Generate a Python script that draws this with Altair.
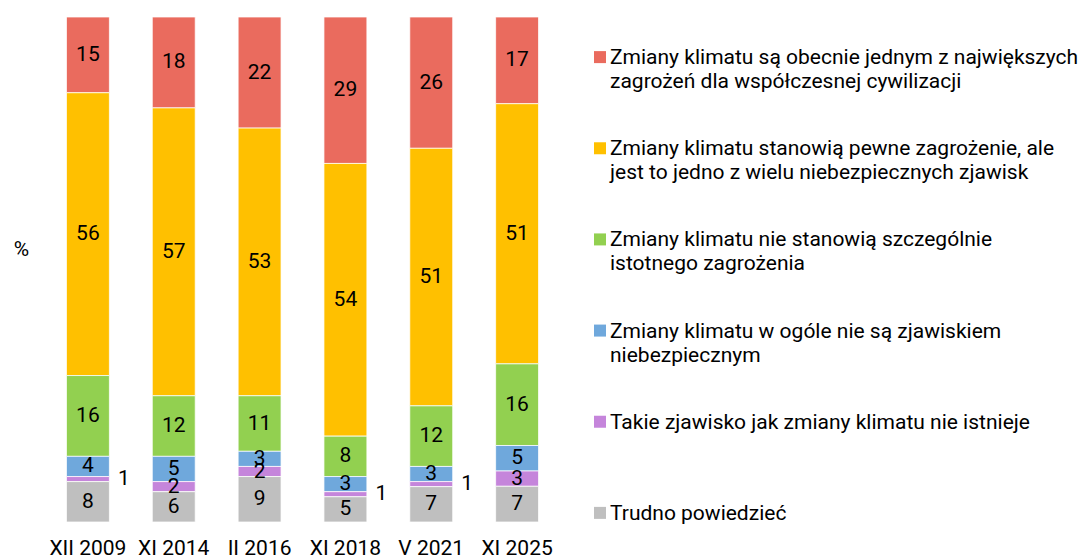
import altair as alt
import pandas as pd

categories = ["XII 2009", "XI 2014", "II 2016", "XI 2018", "V 2021", "XI 2025"]

# series keys, from top of the stack (and legend) to bottom
series = ["red", "yellow", "green", "blue", "purple", "gray"]
series_labels = [
    "Zmiany klimatu są obecnie jednym z największych\nzagrożeń dla współczesnej cywilizacji",
    "Zmiany klimatu stanowią pewne zagrożenie, ale\njest to jedno z wielu niebezpiecznych zjawisk",
    "Zmiany klimatu nie stanowią szczególnie\nistotnego zagrożenia",
    "Zmiany klimatu w ogóle nie są zjawiskiem\nniebezpiecznym",
    "Takie zjawisko jak zmiany klimatu nie istnieje",
    "Trudno powiedzieć",
]
series_colors = ["#EA6B5E", "#FFC000", "#92D050", "#6FA8DC", "#C585DB", "#BFBFBF"]

red = [15, 18, 22, 29, 26, 17]
yellow = [56, 57, 53, 54, 51, 51]
green = [16, 12, 11, 8, 12, 16]
blue = [4, 5, 3, 3, 3, 5]
purple = [1, 2, 2, 1, 1, 3]
gray = [8, 6, 9, 5, 7, 7]

values = {"red": red, "yellow": yellow, "green": green, "blue": blue,
          "purple": purple, "gray": gray}

rows = []
for s_i, s in enumerate(series):
    for c_i, c in enumerate(categories):
        rows.append({"cat": c, "series": s, "value": values[s][c_i],
                     "order": len(series) - 1 - s_i})
df = pd.DataFrame(rows)

legend_df = pd.DataFrame({"series": series, "label": series_labels})

FS = 21

color = alt.Color("series:N", scale=alt.Scale(domain=series, range=series_colors), legend=None)

base = alt.Chart(df).transform_stack(
    stack="value", groupby=["cat"], as_=["y0", "y1"],
    sort=[alt.SortField("order", order="ascending")], offset="normalize"
).transform_calculate(mid="(datum.y0 + datum.y1) / 2")

xenc = alt.X("cat:N", sort=categories,
             scale=alt.Scale(paddingInner=0.5, paddingOuter=0.25),
             axis=alt.Axis(title=None, labelAngle=0, ticks=False, domain=False,
                           labelPadding=15, labelFontSize=FS, labelColor="black",
                           labelFont="Roboto"))
yscale = alt.Scale(domain=[0, 1], nice=False)

bars = base.mark_bar(stroke="white", strokeWidth=0.75).encode(
    x=xenc,
    y=alt.Y("y0:Q", scale=yscale,
            axis=alt.Axis(labels=False, ticks=False, domain=False, grid=False,
                          title="%", titleAngle=0, titleX=-24, titleY=232,
                          titleAlign="center", titleBaseline="middle",
                          titleFontSize=FS, titleFontWeight="normal",
                          titleColor="black", titleFont="Roboto")),
    y2="y1:Q",
    color=color,
)

labels_in = base.transform_filter("datum.value > 1").mark_text(
    fontSize=FS, font="Roboto", color="black", baseline="middle", align="center"
).encode(
    x=alt.X("cat:N", sort=categories),
    y=alt.Y("mid:Q", scale=yscale),
    text="value:Q",
)

labels_out = base.transform_filter("datum.value == 1").mark_text(
    fontSize=FS, font="Roboto", color="black", baseline="middle", align="center", dx=36
).encode(
    x=alt.X("cat:N", sort=categories),
    y=alt.Y("mid:Q", scale=yscale),
    text="value:Q",
)

main = alt.layer(bars, labels_in, labels_out).properties(width=515, height=505)

leg_y = alt.Y("series:N", sort=series, axis=None,
              scale=alt.Scale(type="point", padding=0.44))

leg_sq = alt.Chart(legend_df).mark_square(size=144, opacity=1).encode(
    x=alt.value(6), y=leg_y, color=color
)
leg_tx = alt.Chart(legend_df).mark_text(
    fontSize=FS, font="Roboto", color="black", align="left", baseline="top",
    dy=-10, lineBreak="\n", lineHeight=24
).encode(x=alt.value(16), y=leg_y, text="label:N")

legend = alt.layer(leg_sq, leg_tx).properties(width=470, height=536)

chart = alt.hconcat(main, legend, spacing=34).properties(
    padding={"left": 5, "top": 8, "right": 0, "bottom": 0}
).configure(font="Roboto").configure_view(strokeWidth=0)

chart.save("out.html", embed_options={"renderer": "svg", "actions": False})
